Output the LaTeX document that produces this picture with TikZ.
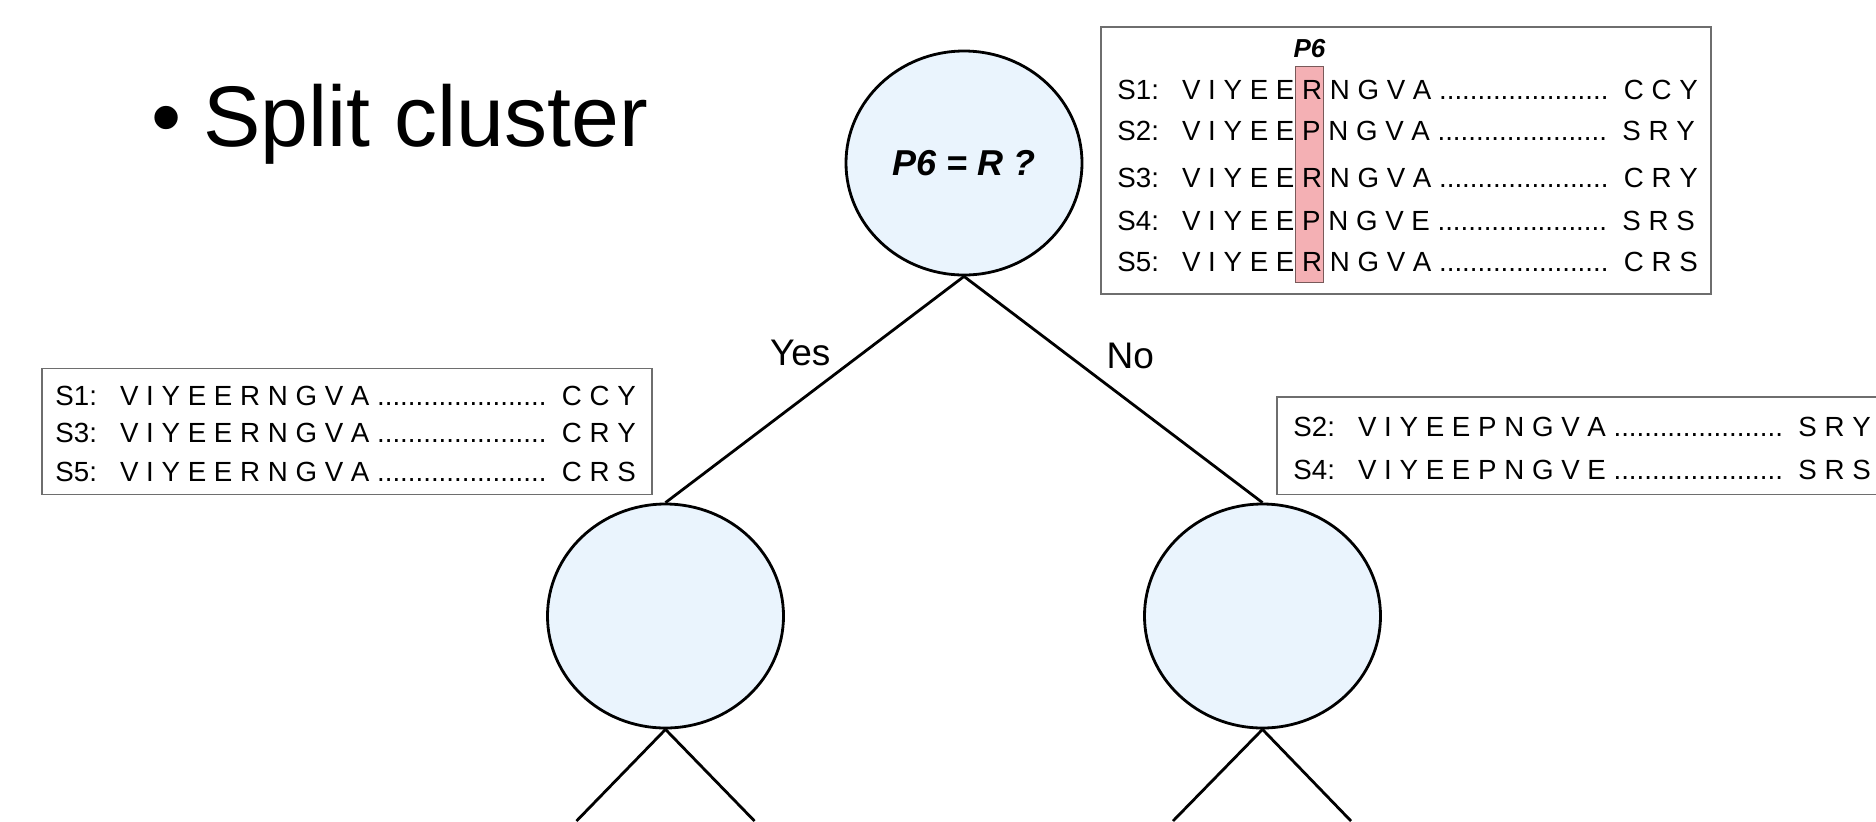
\documentclass[tikz,border=0pt]{standalone}
\usepackage{fontspec}
\setmainfont{Liberation Sans}
\usetikzlibrary{shapes.geometric}
\definecolor{nodeblue}{RGB}{234,244,253}
\definecolor{colpink}{RGB}{244,176,180}
\definecolor{colline}{RGB}{120,90,90}
\definecolor{boxgray}{RGB}{110,110,110}
\newcommand{\seqrow}[3]{#1:\ \ \ #2 ......................\ \ #3}
\begin{document}
\begin{tikzpicture}
			[x=0.5pt,y=0.5pt,
			mynode/.style={ellipse,draw,line width=1.4pt,fill=nodeblue,minimum width=118pt,minimum height=112pt,inner sep=0pt},
			seqbox/.style={rectangle,draw=boxgray,line width=0.7pt,fill=white,inner sep=0pt},
			seqtext/.style={anchor=base west,inner sep=0pt,font=\fontsize{13.85pt}{16pt}\selectfont},
			hilite/.style={rectangle,draw=colline,line width=0.6pt,fill=colpink,minimum width=14pt,minimum height=108pt,inner sep=0pt},
			answer/.style={font=\fontsize{18.5pt}{21pt}\selectfont},
			level 1/.style={sibling distance=298.5pt,level distance=226.5pt},
			edge from parent/.style={draw,line width=1.4pt},
			parent anchor=south,child anchor=north]
			\useasboundingbox (0,0) rectangle (1876,-821);
			\clip (0,0) rectangle (1876,-821);
			\node[anchor=base west,inner sep=0pt,font=\fontsize{43pt}{50pt}\selectfont] (title) at (151,-146) {•\hspace{11pt}Split cluster};
			\node[mynode,name=root,font=\fontsize{18pt}{21pt}\selectfont\bfseries\itshape] at (964,-163) {P6 = R ?}
			child
			{
				node[mynode,name=yes]{}
				edge from parent node[answer,left=12pt,pos=0.34]{Yes}
			}
			child
			{
				node[mynode,name=no]{}
				edge from parent node[answer,right=15pt,pos=0.35]{No}
			};
			\coordinate (yesleft) at (576.5,-821);
			\coordinate (yesright) at (754.5,-821);
			\coordinate (noleft) at (1173,-821);
			\coordinate (noright) at (1351,-821);
			\foreach \p/\q in {yes/yesleft,yes/yesright,no/noleft,no/noright}
			{
				\draw[line width=1.4pt] (\p.south) -- (\q);
			}
			\node[seqbox,minimum width=305pt,minimum height=133.5pt] (allbox) at (1406,-160.5) {};
			\node[seqbox,minimum width=305pt,minimum height=62.85pt] (yesbox) at (347,-431.5) {};
			\node[seqbox,minimum width=305pt,minimum height=48.65pt] (nobox) at (1582,-445.6) {};
			\node[hilite] (col) at (1309.5,-174.6) {};
			\node[above=4pt,inner sep=0pt,font=\fontsize{13pt}{15pt}\selectfont\bfseries\itshape] (colname) at (col.north) {P6};
			\foreach \y/\s/\m/\e [count=\i] in {99.9/S1/V I Y E E R N G V A/C C Y,140.9/S2/V I Y E E P N G V A/S R Y,187.4/S3/V I Y E E R N G V A/C R Y,230.4/S4/V I Y E E P N G V E/S R S,271.9/S5/V I Y E E R N G V A/C R S}
			{
				\node[seqtext] (all\i) at (1117,-\y) {\seqrow{\s}{\m}{\e}};
			}
			\foreach \y/\s/\m/\e [count=\i] in {405.4/S1/V I Y E E R N G V A/C C Y,442.9/S3/V I Y E E R N G V A/C R Y,481.4/S5/V I Y E E R N G V A/C R S}
			{
				\node[seqtext] (yes\i) at (55,-\y) {\seqrow{\s}{\m}{\e}};
			}
			\foreach \y/\s/\m/\e [count=\i] in {436.4/S2/V I Y E E P N G V A/S R Y,479.4/S4/V I Y E E P N G V E/S R S}
			{
				\node[seqtext] (no\i) at (1293,-\y) {\seqrow{\s}{\m}{\e}};
			}
\end{tikzpicture}
\end{document}
